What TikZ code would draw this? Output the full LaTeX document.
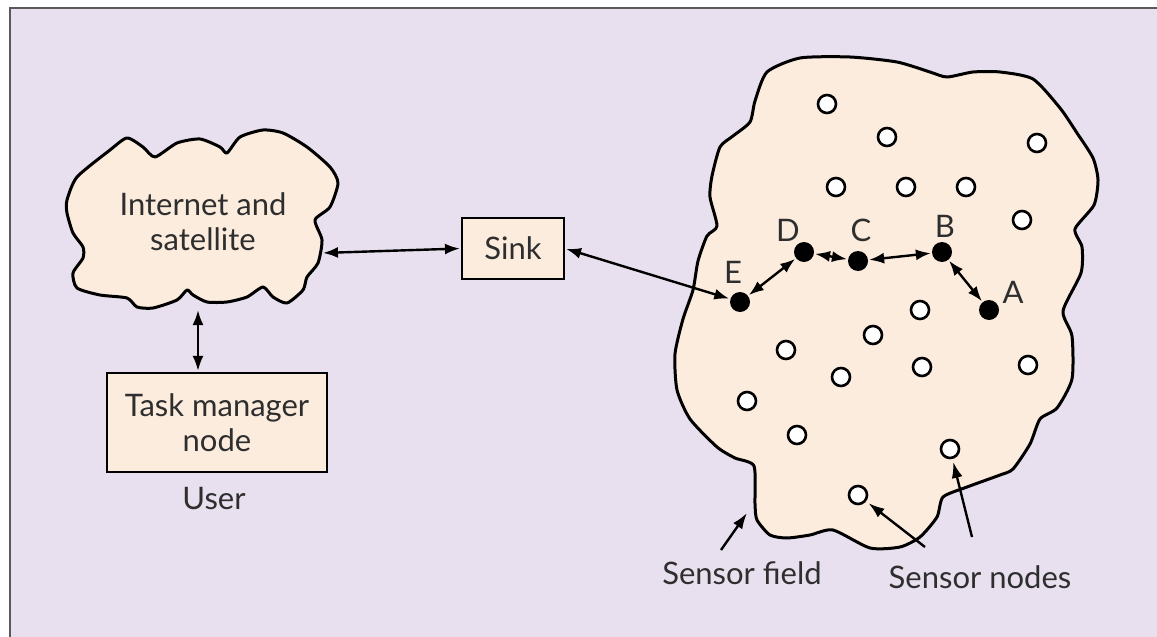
\documentclass[tikz,border=0pt]{standalone}
\usepackage{fontspec}
\setmainfont{Lato}
\usepackage{tikz}
\usetikzlibrary{arrows.meta}
\definecolor{lav}{HTML}{E8E0EE}
\definecolor{peach}{HTML}{FCECDE}
\definecolor{frame-gray}{gray}{0.35}
\definecolor{txt-gray}{HTML}{2E2E2E}
\newcommand*\lbl{\fontsize{31}{35}\selectfont\color{txt-gray}}

\begin{document}
\begin{tikzpicture}[x=1pt,y=-1pt,
				box/.style={draw,line width=2.2pt,fill=peach,font=\lbl,align=center,inner sep=0pt},
				relay/.style={circle,fill=black,minimum size=20pt,inner sep=0pt},
				sensor/.style={circle,draw,line width=2.6pt,fill=white,minimum size=18pt,inner sep=0pt},
				tag/.style={font=\lbl,inner sep=0pt},
				link/.style={{Latex[length=15pt,width=11pt]}-{Latex[length=15pt,width=11pt]},line width=2.4pt,shorten <=1pt,shorten >=1pt},
				note/.style={-{Latex[length=16pt,width=11pt]},line width=2.4pt},
				blob/.style={draw,line width=3pt,fill=peach,line join=round}]
				\useasboundingbox (0,0) rectangle (1157,637);
				\fill[white] (0,0) rectangle (1157,637);
				\draw[line width=2.6pt,draw=frame-gray,fill=lav] (10,8) rectangle (1180,660);
				\draw[blob] plot[smooth cycle,tension=0.4] coordinates {
					(67,200) (77,177) (110,150) (127,138) (143,147) (155,157) (177,143) (200,139) (220,147) (227,153)
					(240,137) (263,130) (283,133) (307,147) (330,167) (338,183) (330,207) (315,220) (322,240) (318,263)
					(307,277) (303,290) (287,303) (273,297) (263,287) (247,297) (227,302) (207,302) (193,295) (187,290)
					(177,300) (153,308) (137,307) (127,298) (100,295) (77,288) (73,273) (83,258) (83,247) (73,233) (67,213)};
				\draw[blob] plot[smooth cycle,tension=0.4] coordinates {
					(800,58) (850,57) (897,62) (930,72) (947,77) (973,72) (1000,72) (1033,79) (1060,108) (1077,133)
					(1093,158) (1098,180) (1094,205) (1075,229) (1082,247) (1081,273) (1063,311) (1072,336) (1072,379)
					(1057,408) (1040,419) (1030,444) (1013,469) (1000,475) (967,487) (943,497) (937,517) (920,537)
					(900,547) (870,548) (833,530) (810,535) (787,538) (770,535) (757,520) (755,504) (754,466) (735,458)
					(717,447) (690,419) (677,390) (675,354) (683,319) (693,290) (698,261) (707,236) (717,226) (710,197)
					(712,176) (720,147) (733,136) (750,122) (755,101) (767,72)};
				\node[tag,align=center] (inet) at (203,222) {Internet and\\satellite};
				\coordinate (inetE) at (322,253);
				\coordinate (inetS) at (198,309);
				\node[box,minimum width=102pt,minimum height=61pt] (sink) at (513,248.5) {Sink};
				\node[box,minimum width=220pt,minimum height=99pt] (task) at (217,422.5) {Task manager\\node};
				\node[tag] (user) at (214,499) {User};
				\foreach \n/\x/\y in {s1/827/104,s2/887/137,s3/1037/143,s4/836/187,s5/906/187,s6/966/187,s7/1022/220,
					s8/920/310,s9/873/335,s10/786/350,s11/922/367,s12/841/377,s13/1028/365,s14/747/401,s15/797/435,
					s16/950/449,s17/858/495}
					\node[sensor] (\n) at (\x,\y) {};
				\node[relay] (E) at (740,302) {};
				\node[relay] (D) at (804,252) {};
				\node[relay] (C) at (858,261) {};
				\node[relay] (B) at (942,252) {};
				\node[relay] (A) at (989,310) {};
				\node[tag] (labE) at (733,272) {E};
				\node[tag] (labD) at (788,230) {D};
				\node[tag] (labC) at (861,230) {C};
				\node[tag] (labB) at (945,226) {B};
				\node[tag] (labA) at (1013,292) {A};
				\draw[link] (inetE) -- (sink.west);
				\draw[link] (inetS) -- (task.north -| inetS);
				\draw[link] (sink.east) -- (E);
				\draw[link] (E) -- (D);
				\draw[link] (D) -- (C);
				\draw[link] (C) -- (B);
				\draw[link] (B) -- (A);
				\node[tag] (fieldlbl) at (742,573) {Sensor field};
				\node[tag] (nodeslbl) at (980,577) {Sensor nodes};
				\coordinate (fieldtip) at (747,513);
				\coordinate (fieldfoot) at (721,550);
				\coordinate (nodesfoot1) at (925,547);
				\coordinate (nodesfoot2) at (972,537);
				\draw[note] (fieldfoot) -- (fieldtip);
				\draw[note,shorten >=3pt] (nodesfoot1) -- (s17);
				\draw[note,shorten >=3pt] (nodesfoot2) -- (s16);
\end{tikzpicture}
\end{document}
